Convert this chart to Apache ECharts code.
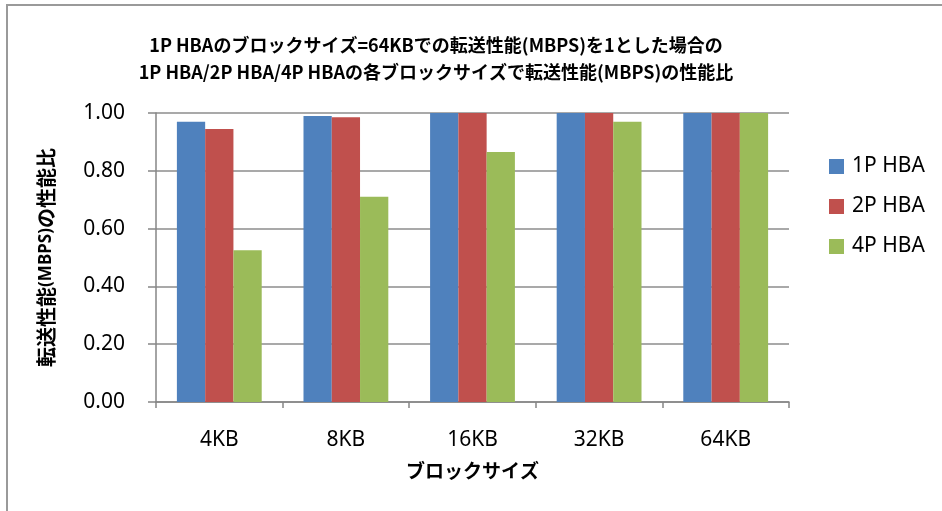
<!DOCTYPE html>
<html lang="ja">
<head>
    <meta charset="UTF-8">
    <title>性能比</title>
    <style>
        html, body { margin: 0; padding: 0; background: #fff; }
        .container { width: 942px; height: 511px; }
    </style>
    <script src="https://cdn.jsdelivr.net/npm/echarts@6/dist/echarts.min.js"></script>
</head>
<body>
    <div class="container"></div>
    <script>
        // ブロックサイズ
        const categories = ['4KB', '8KB', '16KB', '32KB', '64KB'];
        const seriesNames = ['1P HBA', '2P HBA', '4P HBA'];
        // 1P HBA 64KB = 1 とした性能比
        const hba1 = [0.97, 0.99, 1.00, 1.00, 1.00];
        const hba2 = [0.945, 0.985, 1.00, 1.00, 1.00];
        const hba4 = [0.525, 0.71, 0.865, 0.97, 1.00];
        const colors = ['#4F81BD', '#C0504D', '#9BBB59'];
        const titleLines = [
            '1P HBAのブロックサイズ=64KBでの転送性能(MBPS)を1とした場合の',
            '1P HBA/2P HBA/4P HBAの各ブロックサイズで転送性能(MBPS)の性能比'
        ];

        const font = '"Noto Sans", "Noto Sans CJK JP", sans-serif';
        const cjk = '"Noto Sans CJK JP", "Noto Sans", sans-serif';

        const main = document.getElementsByClassName('container')[0];
        const myChart = echarts.init(main);

        const bar = (name, data, i) => ({
            name: name,
            type: 'bar',
            data: data,
            barGap: '0%',
            barCategoryGap: '33%',
            itemStyle: { color: colors[i] }
        });

        myChart.setOption({
            backgroundColor: '#ffffff',
            animation: false,
            graphic: [{
                type: 'rect',
                shape: { x: 7, y: 5, width: 1000, height: 1000 },
                style: { fill: 'none', stroke: '#9a9a9a', lineWidth: 2 },
                silent: true
            }, {
                // タイトル (プロット領域の中央寄せ)
                type: 'text',
                x: 436,
                y: 59,
                style: {
                    text: titleLines.join('\n'),
                    align: 'center',
                    verticalAlign: 'middle',
                    fontFamily: cjk,
                    fontSize: 18,
                    fontWeight: 'bold',
                    lineHeight: 27,
                    fill: '#000'
                }
            }],
            legend: {
                orient: 'vertical',
                left: 824,
                top: 151,
                itemWidth: 15,
                itemHeight: 15,
                itemGap: 19,
                icon: 'rect',
                data: seriesNames,
                textStyle: { fontFamily: font, fontSize: 21, color: '#000', padding: [0, 0, 0, 3] }
            },
            grid: { left: 156, right: 153, top: 113, bottom: 109 },
            xAxis: {
                type: 'category',
                data: categories,
                name: 'ブロックサイズ',
                nameLocation: 'middle',
                nameGap: 59,
                nameTextStyle: { fontFamily: cjk, fontSize: 19, fontWeight: 'bold', color: '#000' },
                axisLine: { lineStyle: { color: '#868686', width: 1.5 } },
                axisTick: { show: true, length: 6, lineStyle: { color: '#868686', width: 1.5 } },
                axisLabel: { fontFamily: font, fontSize: 21, color: '#000', margin: 28 }
            },
            yAxis: {
                type: 'value',
                min: 0,
                max: 1,
                interval: 0.2,
                name: '{a|転送性能}{b|(MBPS)}{a|の性能比}',
                nameLocation: 'middle',
                nameRotate: 90,
                nameGap: 100,
                nameTextStyle: {
                    rich: {
                        a: { fontFamily: cjk, fontSize: 20, fontWeight: 'bold', color: '#000' },
                        b: { fontFamily: font, fontSize: 17, fontWeight: 'bold', color: '#000' }
                    }
                },
                axisLine: { show: true, lineStyle: { color: '#868686', width: 1.5 } },
                axisTick: { show: true, length: 8, lineStyle: { color: '#868686', width: 1.5 } },
                splitLine: { lineStyle: { color: '#8c8c8c', width: 1.5 } },
                axisLabel: {
                    fontFamily: font,
                    fontSize: 21,
                    color: '#000',
                    margin: 31,
                    formatter: v => v.toFixed(2)
                }
            },
            series: [
                bar(seriesNames[0], hba1, 0),
                bar(seriesNames[1], hba2, 1),
                bar(seriesNames[2], hba4, 2)
            ]
        });
    </script>
</body>
</html>
